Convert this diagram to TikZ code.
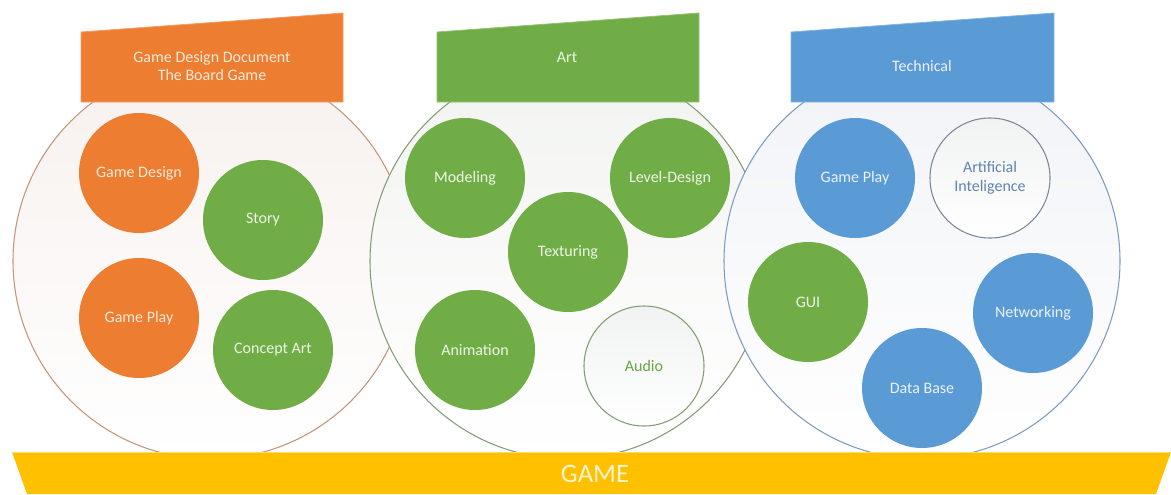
\documentclass[tikz,border=0pt]{standalone}
\usepackage{fontspec}
\setmainfont{Carlito}

\definecolor{gOrange}{HTML}{ED7D31}
\definecolor{gGreen}{HTML}{70AD47}
\definecolor{gBlue}{HTML}{5B9BD5}
\definecolor{gYellow}{HTML}{FFC000}
\definecolor{ringOr}{HTML}{C4957A}
\definecolor{ringGr}{HTML}{839E74}
\definecolor{ringBl}{HTML}{7F9CBE}
\definecolor{tintOr}{HTML}{F7F1EE}
\definecolor{tintGr}{HTML}{F2F4F1}
\definecolor{tintBl}{HTML}{F1F3F7}
\definecolor{txtOr}{HTML}{FCE9D9}
\definecolor{txtGr}{HTML}{ECF6E4}
\definecolor{txtBl}{HTML}{EAF2FB}
\definecolor{txtGame}{HTML}{FFF3D2}
\definecolor{audioTxt}{HTML}{66A444}
\definecolor{aiTxt}{HTML}{5F84AE}
\definecolor{aiRing}{HTML}{7C8898}
\definecolor{hollowTop}{HTML}{F1F2F2}

\tikzset{
  area/.style={circle, minimum size=297pt, inner sep=0pt, line width=0.8pt},
  topic/.style={circle, minimum size=90pt, inner sep=0pt, align=center,
                font=\fontsize{12}{14}\selectfont},
  ortopic/.style={topic, fill=gOrange, text=txtOr},
  grtopic/.style={topic, fill=gGreen, text=txtGr},
  bltopic/.style={topic, fill=gBlue, text=txtBl},
  hollow/.style={topic, top color=hollowTop, bottom color=white, line width=0.8pt},
  headtext/.style={align=center, font=\fontsize{12}{13.5}\selectfont},
}

\begin{document}
\begin{tikzpicture}[x=0.75pt, y=-0.75pt]
\useasboundingbox (0,0) rectangle (1171,494);

% three overlapping areas, later ones lying over earlier ones
\node[area, draw=ringOr, top color=tintOr, bottom color=white] (design) at (211,261) {};
\node[area, draw=ringGr, top color=tintGr, bottom color=white] (art)    at (568,261) {};
\node[area, draw=ringBl, top color=tintBl, bottom color=white] (tech)   at (922,261) {};

% slanted headers above each area
\fill[gOrange, draw=gOrange!75!white, line width=0.6pt] (81,32) -- (343,13) -- (343,102) -- (81,102) -- cycle;
\fill[gGreen,  draw=gGreen!75!white,  line width=0.6pt] (437,32) -- (699,13) -- (699,102) -- (437,102) -- cycle;
\fill[gBlue,   draw=gBlue!75!white,   line width=0.6pt] (791,32) -- (1054,13) -- (1054,102) -- (791,102) -- cycle;

\node[headtext, text=txtOr] (designT) at (212,66) {Game Design Document\\The Board Game};
\node[headtext, text=txtGr] (artT)    at (567,57) {Art};
\node[headtext, text=txtBl] (techT)   at (922,66) {Technical};

% design document topics
\node[ortopic] (gdesign)  at (139,173) {Game Design};
\node[grtopic] (story)    at (263,220) {Story};
\node[ortopic] (gplay)    at (139,318) {Game Play};
\node[grtopic] (concept)  at (273,350) {Concept Art};

% art topics
\node[grtopic] (modeling) at (465,178) {Modeling};
\node[grtopic] (level)    at (670,178) {Level-Design};
\node[grtopic] (texture)  at (568,252) {Texturing};
\node[grtopic] (anim)     at (475,350) {Animation};
\node[hollow, draw=ringGr, text=audioTxt] (audio) at (644,366) {Audio};

% technical topics
\node[bltopic] (tplay)    at (855,178) {Game Play};
\node[hollow, draw=aiRing, text=aiTxt] (ai) at (990,178) {Artificial\\Inteligence};
\node[grtopic] (gui)      at (808,302) {GUI};
\node[bltopic] (net)      at (1033,313) {Networking};
\node[bltopic] (db)       at (922,388) {Data Base};

% base bar
\fill[gYellow] (12,452) -- (1171,452) -- (1156,494) -- (27,494) -- cycle;
\draw[gYellow!55!white, line width=0.6pt] (12,452) -- (1171,452);
\node[text=txtGame, font=\fontsize{20}{22}\selectfont] (game) at (595,474) {GAME};
\end{tikzpicture}
\end{document}
